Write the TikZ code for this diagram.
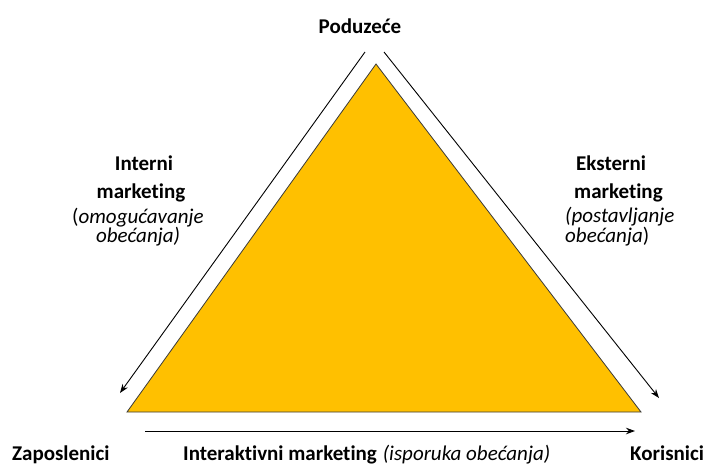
\documentclass[tikz,border=0pt]{standalone}
\usepackage{fontspec}
\setmainfont{Carlito}[RawFeature={-liga}]
\usetikzlibrary{arrows.meta}
\definecolor{tri}{HTML}{FFC000}
\definecolor{edge}{HTML}{3A3A3A}
\begin{document}
\begin{tikzpicture}[x=1pt,y=-1pt,
  bl/.style={font=\fontsize{21}{25}\selectfont\bfseries, inner sep=0pt, anchor=base west},
  bc/.style={font=\fontsize{21}{25}\selectfont\bfseries, inner sep=0pt, anchor=base},
  il/.style={font=\fontsize{21}{25}\selectfont, inner sep=0pt, anchor=base west},
  ic/.style={font=\fontsize{21}{25}\selectfont, inner sep=0pt, anchor=base},
  conn/.style={draw=black, line width=0.9pt, -{Stealth[length=9pt,width=6.5pt]}}]
\useasboundingbox (0,0) rectangle (707,467);
% triangle
\coordinate (apex) at (376,64);
\coordinate (bl) at (127,412);
\coordinate (br) at (641,412);
\draw[fill=tri, draw=edge, line width=0.8pt] (apex) -- (br) -- (bl) -- cycle;
% arrows
\coordinate (l1) at (365,52);
\coordinate (l2) at (120,393);
\coordinate (r1) at (384,52);
\coordinate (r2) at (659,398);
\coordinate (b1) at (145,431);
\coordinate (b2) at (635,431);
\draw[conn] (l1) -- (l2);
\draw[conn] (r1) -- (r2);
\draw[conn] (b1) -- (b2);
% labels
\node[bc] (top) at (360,33) {Poduzeće};
\node[bc] (int1) at (144,170) {Interni};
\node[bc] (int2) at (141,198) {marketing};
\node[ic] (int3) at (138,223) {(\textit{omogućavanje}};
\node[ic] (int4) at (138,242) {\textit{obećanja)}};
\node[bl] (ext1) at (576,170) {Eksterni};
\node[bl] (ext2) at (574,198) {marketing};
\node[il] (ext3) at (565,222) {\textit{(postavljanje}};
\node[il] (ext4) at (565,242) {\textit{obećanja})};
\node[bl] (zap) at (12,460) {Zaposlenici};
\node[bl] (iam) at (183,460) {Interaktivni marketing\hspace{6pt}\textit{\mdseries(isporuka obećanja)}};
\node[bl] (kor) at (630,460) {Korisnici};
\end{tikzpicture}
\end{document}
